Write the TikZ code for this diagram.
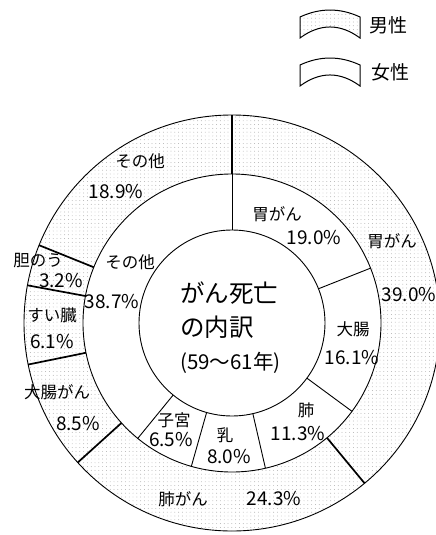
\documentclass[tikz,border=0pt]{standalone}
\usepackage{fontspec}
\setmainfont{Noto Sans CJK JP}
\usetikzlibrary{patterns.meta}

\begin{document}
\begin{tikzpicture}[x=1pt,y=1pt,
  lab/.style={font=\fontsize{16.5}{19}\selectfont,inner sep=0pt},
  num/.style={font=\fontsize{19}{22}\selectfont,inner sep=0pt},
  ttl/.style={font=\fontsize{24.5}{28}\selectfont,inner sep=0pt,anchor=west},
  male/.style={pattern={Dots[distance=3.8pt,radius=0.45pt]},pattern color=gray!70},
  female/.style={fill=white}]
\useasboundingbox (0,0) rectangle (436,-535);
\clip (0,0) rectangle (436,-535);
\coordinate (c) at (232,-323);
\path[male,even odd rule] (c) circle (208) (c) circle (149);
\draw[line width=0.9pt] (c) circle (208) (c) circle (149) (c) circle (93);
\foreach \a in {90,-50.4,-137.88,-168.48,169.56,158.04}
  \draw[line width=1.7pt] (c) ++(\a:149) -- ++(\a:59);
\foreach \a in {90,21.6,-36.36,-77.04,-105.84,-129.24}
  \draw[line width=0.9pt] (c) ++(\a:93) -- ++(\a:56);
\foreach \dy/\sty in {0/male,48/female}
  \draw[\sty,line width=1pt] (300,-38-\dy) -- (300,-17-\dy)
    .. controls (320,-7.7-\dy) and (340,-7.7-\dy) .. (360,-17-\dy) -- (360,-38-\dy)
    .. controls (340,-23.3-\dy) and (320,-23.3-\dy) .. (300,-38-\dy) -- cycle;
\node[font=\fontsize{19}{22}\selectfont] (sexm) at (388,-25) {男性};
\node[font=\fontsize{19}{22}\selectfont] (sexf) at (390,-72) {女性};
\node[ttl] (ttl1) at (180,-293) {がん死亡};
\node[ttl] (ttl2) at (180,-327) {の内訳};
\node[ttl,font=\fontsize{20.5}{24}\selectfont] (ttl3) at (180,-363) {(59〜61年)};
\node[lab] (otherm) at (140,-161) {その他};
\node[num] (otherpm) at (116,-192) {18.9\%};
\node[lab] (stomm) at (392,-241) {胃がん};
\node[num] (stompm) at (409,-295) {39.0\%};
\node[lab] (lungm) at (183,-499) {肺がん};
\node[num] (lungpm) at (274,-499) {24.3\%};
\node[lab] (colm) at (57,-392) {大腸がん};
\node[num] (colpm) at (78,-424) {8.5\%};
\node[lab] (pancm) at (52,-315) {すい臓};
\node[num] (pancpm) at (52,-342) {6.1\%};
\node[lab] (gallm) at (38,-261) {胆のう};
\node[num] (gallpm) at (61,-281) {3.2\%};
\node[lab] (stomf) at (277,-214) {胃がん};
\node[num] (stompf) at (314,-238) {19.0\%};
\node[lab] (colf) at (353,-329) {大腸};
\node[num] (colpf) at (352,-358) {16.1\%};
\node[lab] (lungf) at (306,-410) {肺};
\node[num] (lungpf) at (298,-434) {11.3\%};
\node[lab] (brstf) at (225,-435) {乳};
\node[num] (brstpf) at (229,-457) {8.0\%};
\node[lab] (uterf) at (174,-420) {子宮};
\node[num] (uterpf) at (171,-440) {6.5\%};
\node[lab] (otherf) at (130,-262) {その他};
\node[num] (otherpf) at (112,-302) {38.7\%};
\end{tikzpicture}
\end{document}
